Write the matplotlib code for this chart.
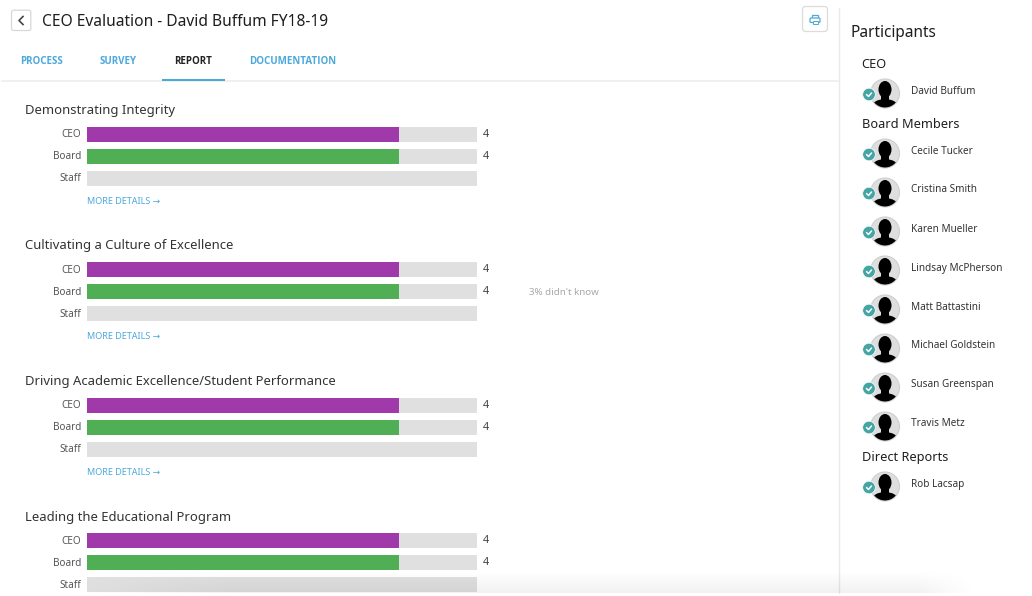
import numpy as np
import matplotlib
matplotlib.use('Agg')
import matplotlib.pyplot as plt
from matplotlib.patches import Circle, Ellipse, FancyBboxPatch, Rectangle
from matplotlib.transforms import ScaledTranslation

plt.rcParams['font.family'] = ['Noto Sans', 'DejaVu Sans']

W, H = 1032, 596

title = 'CEO Evaluation - David Buffum FY18-19'
tabs = ['PROCESS', 'SURVEY', 'REPORT', 'DOCUMENTATION']
sections = ['Demonstrating Integrity',
            'Cultivating a Culture of Excellence',
            'Driving Academic Excellence/Student Performance',
            'Leading the Educational Program']
groups = ['CEO', 'Board', 'Staff']
ceo_scores = [4, 4, 4, 4]
board_scores = [4, 4, 4, 4]
staff_scores = [None, None, None, None]
max_score = 5
notes = [None, "3% didn't know", None, None]

participants = [('CEO', ['David Buffum']),
                ('Board Members', ['Cecile Tucker', 'Cristina Smith', 'Karen Mueller',
                                   'Lindsay McPherson', 'Matt Battastini', 'Michael Goldstein',
                                   'Susan Greenspan', 'Travis Metz']),
                ('Direct Reports', ['Rob Lacsap'])]
heading_y = [63, 123.5, 455.5]
person_y = [[90], [150, 189, 228, 267, 306, 345, 384, 423], [483]]

PURPLE = '#A03AAB'
GREEN = '#50AF54'
TRACK = '#E0E0E0'
BLUE = '#4BA9DC'
TEAL = '#45A5A5'
DARK = '#1e1e1e'

section_tops = [127, 262.3, 398, 533.3]
section_title_y = [109, 244.5, 380, 516]
DY = 1.5  # noto sits a bit high when centred


def bar_section(fig, top, ceo, board, staff, note):
    ax = fig.add_axes([87 / W, 1 - (top - 3.7 + 66) / H, 390 / W, 66 / H])
    ax.patch.set_alpha(0)
    rows = np.arange(len(groups))
    ax.barh(rows, [max_score] * 3, height=0.67, color=TRACK, zorder=1)
    for i, (val, col) in enumerate(zip([ceo, board, staff], [PURPLE, GREEN, None])):
        if val is None:
            continue
        ax.barh(i, val, height=0.67, color=col, zorder=2)
        ax.annotate(str(val), (max_score, i), xytext=(4.4, 0), textcoords='offset points',
                    va='center', ha='left', fontsize=7.8, color='#444444')
    if note:
        ax.annotate(note, (max_score, 1), xytext=(37.5, -0.5), textcoords='offset points',
                    va='center', ha='left', fontsize=7.0, color='#a8a8a8')
    ax.set_xlim(0, max_score)
    ax.set_ylim(2.5, -0.5)
    ax.set_yticks(rows, groups, fontsize=7.2, color='#555555')
    ax.set_xticks([])
    ax.tick_params(axis='y', length=0, pad=4.2)
    shift = ScaledTranslation(0, 1 / 100, fig.dpi_scale_trans)
    for lab in ax.get_yticklabels():
        lab.set_transform(lab.get_transform() + shift)
    for s in ax.spines.values():
        s.set_visible(False)
    return ax


def avatar(ax, x, y):
    ax.add_patch(Circle((x, y), 14.5, fc='#dedede', ec='#cfcfcf', lw=0.8, zorder=3))
    clip = Circle((x, y), 14, transform=ax.transData)
    head = Ellipse((x, y - 4), 13, 17, fc='black', ec='none', zorder=4)
    neck = Rectangle((x - 4, y + 1), 8, 7, fc='black', ec='none', zorder=4)
    body = Ellipse((x, y + 14), 27, 17, fc='black', ec='none', zorder=4)
    for p in (head, neck, body):
        ax.add_patch(p)
        p.set_clip_path(clip)
    ax.add_patch(Circle((x - 16, y + 1), 6.3, fc=TEAL, ec='white', lw=0.5, zorder=5))
    ax.plot([x - 18.5, x - 16.5, x - 13.5], [y + 1, y + 3, y - 0.5], color='white', lw=1.1, zorder=6,
            solid_capstyle='round')


def label(ax, x, y, s, **kw):
    ax.text(x, y + DY, s, va='center', ha='left', **kw)


fig = plt.figure(figsize=(W / 100, H / 100), dpi=100, facecolor='white')
bg = fig.add_axes([0, 0, 1, 1])
bg.set_xlim(0, W)
bg.set_ylim(H, 0)
bg.axis('off')

# header
bg.add_patch(FancyBboxPatch((11.5, 10.2), 19.3, 20.3, boxstyle='round,pad=0,rounding_size=2', fc='white', ec='#d8d8d8', lw=0.9))
bg.plot([23, 19, 23], [16.5, 20.5, 24.5], color='#444444', lw=1.2)
label(bg, 42, 20, title, fontsize=11.2, color=DARK)
bg.add_patch(FancyBboxPatch((802.5, 6.5), 25, 25, boxstyle='round,pad=0,rounding_size=3', fc='white', ec='#dcdcdc', lw=0.9))
bg.add_patch(Rectangle((812, 15), 6, 4, fc='white', ec=BLUE, lw=0.9, zorder=3))
bg.add_patch(FancyBboxPatch((810, 18), 10, 4.5, boxstyle='round,pad=0,rounding_size=1.2', fc='white', ec=BLUE, lw=0.9, zorder=4))
bg.add_patch(Rectangle((812.5, 21), 5, 2.5, fc='white', ec=BLUE, lw=0.7, zorder=5))

# tabs
tab_x = [20.5, 100, 174.5, 249]
for x, t in zip(tab_x, tabs):
    c = '#222222' if t == 'REPORT' else BLUE
    label(bg, x, 59.5, t, fontsize=7.0, color=c, family='Open Sans', weight='bold')
bg.plot([2, 838], [80.5, 80.5], color='#eeeeee', lw=1.2)
bg.add_patch(Rectangle((162, 79), 63, 2, fc=BLUE, ec='none', zorder=3))

# sidebar
bg.plot([838.5, 838.5], [8, 593], color='#eaeaea', lw=1)
label(bg, 851, 31.5, 'Participants', fontsize=11.1, color=DARK)
for (head, names), hy, ys in zip(participants, heading_y, person_y):
    label(bg, 861.5, hy, head, fontsize=9.2, color=DARK)
    for name, y in zip(names, ys):
        avatar(bg, 885, y + 3.5)
        label(bg, 911, y - 0.5, name, fontsize=7.2, color='#333333')

# chart blocks
for i, name in enumerate(sections):
    label(bg, 25, section_title_y[i] - 0.2, name, fontsize=9.4, color='#333333')
    bar_section(fig, section_tops[i], ceo_scores[i], board_scores[i], staff_scores[i], notes[i])
    if section_tops[i] + 74 < H:
        label(bg, 87, section_tops[i] + 73, 'MORE DETAILS \u2192', fontsize=6.5, color=BLUE)

# soft shadow along the bottom edge
over = fig.add_axes([0, 0, 1, 1])
over.set_xlim(0, W)
over.set_ylim(H, 0)
over.axis('off')
over.patch.set_alpha(0)
xs = np.arange(W)
ys = np.arange(570, 593)
side = np.clip((xs - 60) / 180, 0, 1) * np.clip((975 - xs) / 60, 0, 1)
depth = (ys - 570) / 23
rgba = np.zeros((len(ys), W, 4))
rgba[..., 3] = 0.06 * depth[:, None] * side[None, :]
over.imshow(rgba, extent=[0, W, 593, 570], aspect='auto', zorder=10)
over.set_xlim(0, W)
over.set_ylim(H, 0)

fig.savefig('out.png', dpi=100)
